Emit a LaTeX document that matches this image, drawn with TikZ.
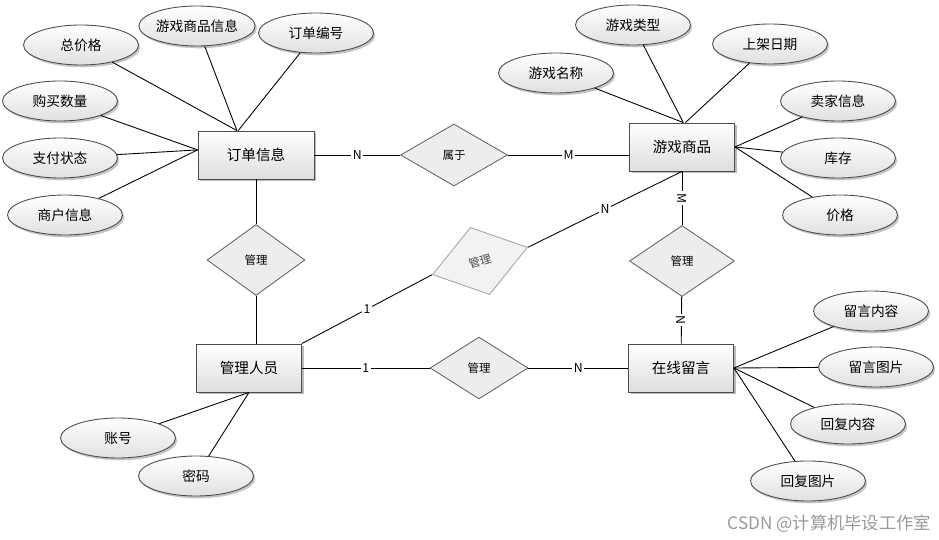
\documentclass[tikz,border=0pt]{standalone}
\usepackage{fontspec}
\setmainfont{Noto Sans CJK SC}
\usetikzlibrary{shapes.geometric, shadows}

\begin{document}
\begin{tikzpicture}[
  x=0.02cm, y=-0.02cm,
  line width=0.5pt,
  entity/.style={draw=black!70, top color=white, bottom color=black!13, minimum width=2.1cm, minimum height=0.96cm, inner sep=0pt, font=\fontsize{8.3}{10}\selectfont, drop shadow={shadow xshift=1.3pt, shadow yshift=-1.3pt, fill=black!45, opacity=0.6}},
  attr/.style={ellipse, draw=black!70, top color=white, bottom color=black!12, minimum width=2.3cm, minimum height=0.8cm, inner sep=0pt, font=\fontsize{7.8}{9}\selectfont, drop shadow={shadow xshift=1pt, shadow yshift=-1.3pt, fill=black!45, opacity=0.5}},
  rel/.style={diamond, draw=black!60, fill=black!7, inner sep=0pt, font=\fontsize{6.5}{8}\selectfont},
  card/.style={fill=white, inner sep=1pt, font=\fontsize{7}{8}\selectfont}
]
\useasboundingbox (0,0) rectangle (939,540);

% 实体
\node[entity, minimum width=2.32cm] (order) at (256,155) {订单信息};
\node[entity] (goods) at (682,147) {游戏商品};
\node[entity] (staff) at (249,368) {管理人员};
\node[entity] (msg) at (681,368) {在线留言};

% 联系
\node[rel, minimum width=2.14cm, minimum height=1.24cm] (belong) at (454,155) {属于};
\node[rel, minimum width=1.96cm, minimum height=1.42cm] (mgOrder) at (256,260) {管理};
\node[rel, minimum width=1.98cm, minimum height=1.4cm, rotate=16, draw=black!35, fill=black!5, text=black!70] (mgGoods) at (480,261) {管理};
\node[rel, minimum width=2.1cm, minimum height=1.42cm] (mgMsg) at (682,261) {管理};
\node[rel, minimum width=1.96cm, minimum height=1.24cm] (mgStaff) at (479,368) {管理};

% 属性
\node[attr] (total) at (81,45) {总价格};
\node[attr] (gameInfo) at (197,26) {游戏商品信息};
\node[attr] (orderNo) at (316,33) {订单编号};
\node[attr] (qty) at (60,101) {购买数量};
\node[attr] (payState) at (60,158) {支付状态};
\node[attr] (merchant) at (65,215) {商户信息};

\node[attr] (gameName) at (556,73) {游戏名称};
\node[attr] (gameType) at (633,25) {游戏类型};
\node[attr] (onDate) at (770,44) {上架日期};
\node[attr] (seller) at (838,101) {卖家信息};
\node[attr] (stock) at (838,158) {库存};
\node[attr] (price) at (840,215) {价格};

\node[attr] (msgText) at (871,311) {留言内容};
\node[attr] (msgPic) at (876,367) {留言图片};
\node[attr] (replyText) at (848,424) {回复内容};
\node[attr] (replyPic) at (808,481) {回复图片};

\node[attr] (account) at (118,438) {账号};
\node[attr] (pwd) at (196,476) {密码};

\node[text=black!40, font=\fontsize{9.8}{11}\selectfont, anchor=east] (mark) at (937,524) {CSDN @计算机毕设工作室};

% 属性连线
\draw (total) -- (order.128);
\draw (gameInfo) -- (order.128);
\draw (orderNo) -- (order.126);
\draw (qty) -- (order.175);
\draw (payState) -- (order.175);
\draw (merchant) -- (order.175);

\draw (gameName) -- (goods.87);
\draw (gameType) -- (goods.87);
\draw (onDate) -- (goods.82);
\draw (seller) -- (goods.east);
\draw (stock) -- (goods.east);
\draw (price) -- (goods.east);

\draw (msgText) -- (msg.east);
\draw (msgPic) -- (msg.east);
\draw (replyText) -- (msg.east);
\draw (replyPic) -- (msg.east);

\draw (account) -- (staff.south);
\draw (pwd) -- (staff.south);

% 联系连线
\draw (order) -- (belong) node[card, midway]{N};
\draw (belong.east) -- (belong.east -| goods.west) node[card, midway]{M};
\draw (order) -- (mgOrder);
\draw (mgOrder.south) -- (mgOrder.south |- staff.north);
\draw (staff.north east) -- (mgGoods.west) node[card, midway]{1};
\draw (mgGoods.east) -- (goods.south) node[card, midway]{N};
\draw (goods) -- (mgMsg) node[card, midway, rotate=-90]{M};
\draw (mgMsg) -- (msg) node[card, midway, rotate=-90]{N};
\draw (staff) -- (mgStaff) node[card, midway]{1};
\draw (mgStaff) -- (msg) node[card, midway]{N};

\end{tikzpicture}
\end{document}
